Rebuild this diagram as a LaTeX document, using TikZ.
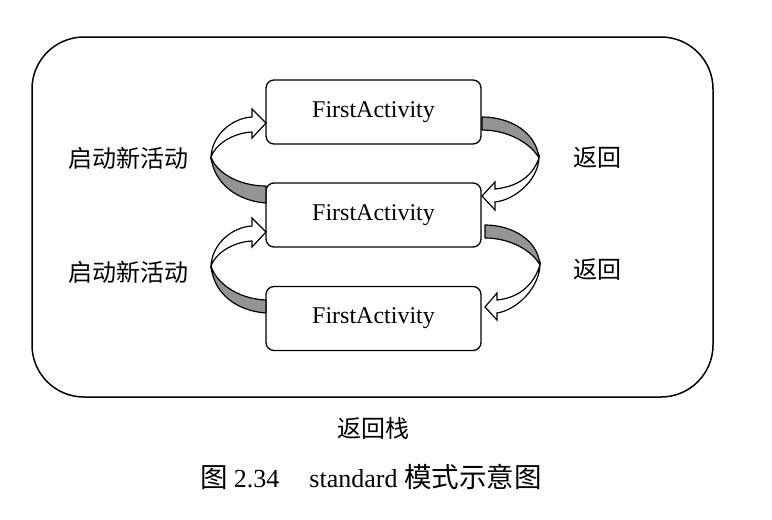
\documentclass[tikz,border=0pt]{standalone}
\usepackage{fontspec}
\setmainfont{Liberation Serif}
\newfontfamily\cjk{Noto Sans CJK SC}
\begin{document}
\begin{tikzpicture}[x=1pt,y=-1pt,
  actbox/.style={draw, line width=1.3pt, rounded corners=8pt, minimum width=215pt, minimum height=64pt, inner sep=0pt, font=\fontsize{24}{28}\selectfont},
  lbl/.style={font=\cjk\fontsize{24}{28}\selectfont, inner sep=0pt},
  ribbonback/.style={draw=black, fill=black!42, line width=1.2pt, line join=round},
  ribbonfront/.style={draw=black, fill=white, line width=1.2pt, line join=miter},
  frame/.style={draw, line width=1.5pt, rounded corners=52pt, minimum width=681pt, minimum height=360pt, inner sep=0pt}]
\useasboundingbox (0,0) rectangle (772,520);
\fill[white] (0,0) rectangle (772,520);
\node[frame] (stack) at (372.5,217) {};
\node[actbox] (b1) at (373.5,112) {FirstActivity};
\node[actbox] (b2) at (373.5,215) {FirstActivity};
\node[actbox] (b3) at (373.5,318.5) {FirstActivity};
% left ribbon b2 -> b1
\filldraw[ribbonback] (211,157) .. controls (216,172) and (238,186) .. (266,186) -- (266,203) .. controls (238,201) and (214,184) .. (211,157) -- cycle;
\filldraw[ribbonfront] (211,157) .. controls (212,135) and (232,118) .. (252,117) -- (252,109) -- (266,123) -- (252,138) -- (252,132) .. controls (232,133) and (215,145) .. (211,157) -- cycle;
% left ribbon b3 -> b2
\filldraw[ribbonback] (211,266) .. controls (216,283) and (238,299) .. (266,300) -- (266,313) .. controls (238,311) and (214,295) .. (211,266) -- cycle;
\filldraw[ribbonfront] (211,266) .. controls (212,244) and (232,227) .. (252,226) -- (252,218) -- (266,232) -- (252,247) -- (252,241) .. controls (232,242) and (215,254) .. (211,266) -- cycle;
% right ribbon b1 -> b2
\filldraw[ribbonback] (482,117) .. controls (510,117) and (536,132) .. (539,158) .. controls (532,145) and (510,130) .. (482,130) -- cycle;
\filldraw[ribbonfront] (539,158) .. controls (538,180) and (515,200) .. (495,202) -- (495,210) -- (482,196) -- (495,182) -- (495,189) .. controls (515,187) and (532,178) .. (539,158) -- cycle;
% right ribbon b2 -> b3
\filldraw[ribbonback] (485,225) .. controls (512,225) and (538,240) .. (540,265) .. controls (533,252) and (512,238) .. (485,238) -- cycle;
\filldraw[ribbonfront] (540,265) .. controls (539,288) and (517,310) .. (497,313) -- (497,320) -- (485,307) -- (497,293) -- (497,300) .. controls (517,298) and (533,287) .. (540,265) -- cycle;
% labels
\node[lbl] (l1) at (128,158) {启动新活动};
\node[lbl] (l2) at (128,272) {启动新活动};
\node[lbl] (r1) at (597,158) {返回};
\node[lbl] (r2) at (597,270) {返回};
\node[lbl] (st) at (373,428) {返回栈};
\node[inner sep=0pt, font=\fontsize{26}{30}\selectfont] (cap) at (371,477) {{\cjk\fontsize{27.5}{30}\selectfont 图}\hspace{6pt}2.34\hspace{30pt}standard {\cjk\fontsize{27.5}{30}\selectfont 模式示意图}};
\end{tikzpicture}
\end{document}
